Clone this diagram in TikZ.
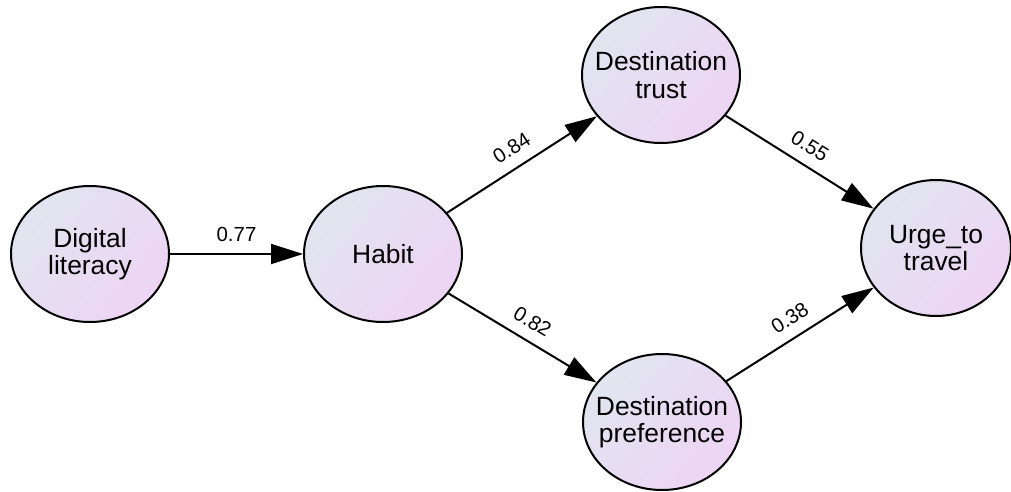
\documentclass[tikz,border=0pt]{standalone}
\usepackage{fontspec}
\setmainfont{Liberation Sans}
\usepackage{tikz}
\usetikzlibrary{arrows.meta,shapes.geometric,positioning}
\definecolor{latentA}{RGB}{225,229,240}
\definecolor{latentB}{RGB}{238,212,244}
\tikzset{
	path diagram/.style={
		x=0.5pt, y=-0.5pt,
		latent/.style={
			ellipse, draw, line width=1pt,
			top color=latentA, bottom color=latentB, shading angle=50,
			minimum width=79pt, minimum height=68pt,
			inner xsep=-6pt, inner ysep=0pt,
			align=center, font=\fontsize{13.2}{13.8}\selectfont},
		ar/.style={draw, line width=1pt, -{Triangle[length=16pt,width=10pt]}},
		coef/.style={font=\fontsize{10.2}{11}\selectfont, sloped, above=3.5pt, inner sep=2pt, pos=.5}
	}
}

\begin{document}
\begin{tikzpicture}[path diagram]
  \useasboundingbox (0,0) rectangle (1011,492);
  \node[latent] (DL) at (90,254) {Digital\\literacy};
  \node[latent, right=66.5pt of DL] (H) {Habit};
  \node[latent] (DT) at (661,75) {Destination\\trust};
  \node[latent] (DP) at (662,422) {Destination\\preference};
  \node[latent, minimum width=75pt] (UT) at (936,248) {Urge\_to\\travel};
  \draw[ar] (DL) -- node[coef] {0.77} (H);
  \draw[ar] (H) -- node[coef] {0.84} (DT);
  \draw[ar] (H) -- node[coef] {0.82} (DP);
  \draw[ar] (DT) -- node[coef] {0.55} (UT);
  \draw[ar] (DP) -- node[coef] {0.38} (UT);
\end{tikzpicture}
\end{document}
